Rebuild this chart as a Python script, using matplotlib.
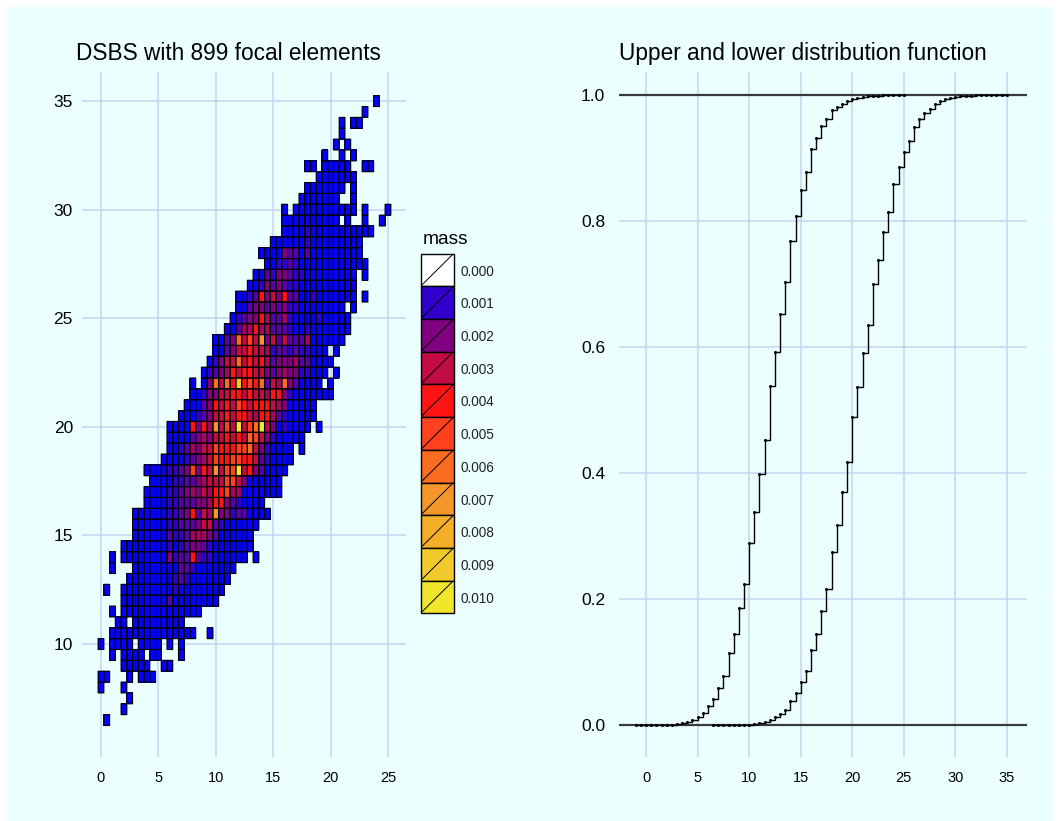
import numpy as np
import matplotlib
matplotlib.use("Agg")
import matplotlib.pyplot as plt
from matplotlib.colors import LinearSegmentedColormap
from matplotlib.patches import Rectangle

plt.rcParams['font.family'] = ['Liberation Sans', 'DejaVu Sans']

W, H = 1060, 821
BG = '#EBFFFF'
GRID = '#C5D3F0'

# -- data for the left panel: one string per row, top row first -- #
# row_first = column where the string starts (column = x / 0.5), "." = no cell
row_y = [35 - 0.5 * i for i in range(58)]
row_first = [48, 46, 42, 42, 41, 39, 36, 38, 36, 35,
             32, 32, 32, 30, 28, 29, 27, 26, 24, 24,
             23, 22, 20, 20, 19, 18, 16, 16, 15, 14,
             12, 12, 12, 11, 8, 9, 8, 8, 6, 6,
             6, 4, 2, 2, 5, 1, 4, 2, 3, 2,
             0, 2, 4, 0, 0, 5, 4, 1]
row_cells = [
    "1",
    "1",
    "1.11",
    "1",
    "1.1",
    "1..1.1",
    "11.11111..11",
    "1111111",
    "1111111.1",
    "1111111..1",
    "1.11111111111.1...1",
    "1111111111.1..1..1",
    "1111211111111111",
    "1111112111111111",
    "111143313111111111",
    "112232111111111111",
    "113244322111111111.1",
    "1124343221111111111",
    "112374647331121111111.1",
    "1134434342211111111.1",
    "123447533521111211111",
    "1135575533321121111111",
    "11349686a46363335111111",
    "11346676652332322111.1",
    "1246696767534445331111",
    "1234576776643454422111.1",
    "1.149697c78793659431111.1",
    "1124466776766577421111111",
    "11134767687677765411111",
    "111234667677657753211111",
    "11117475a686d689d64121111.1",
    "111134546676769864211111",
    "1123546687778896421111.1",
    "11112345687788776321111",
    "111122348476a688d67431111",
    "11112233456668864111111",
    "111122345465778551111111",
    "111122333445774321111",
    "11111122347365a442331111",
    "1111112233346632111111",
    "111111322355543111111",
    "11111111212344321111111",
    "1.1111111142337322111111.1",
    "1...111111113321111111",
    "111111112321111111",
    "1..111111111211111111",
    "11111111311111111",
    "1.11111111111111",
    "11.111111111",
    "111111111111111..1",
    "1.1111.1111.1.1",
    "1.1111.11...1",
    "11111..11",
    "11...1.111",
    "1...1",
    "1",
    "1",
    "1",
]

# mass carried by each colour code
mass_codes = {'1': 0.0001, '2': 0.001, '3': 0.0015, '4': 0.002, '5': 0.0025,
              '6': 0.003, '7': 0.004, '8': 0.005, '9': 0.006, 'a': 0.007,
              'b': 0.008, 'c': 0.009, 'd': 0.010}

legend_vals = [0.000, 0.001, 0.002, 0.003, 0.004, 0.005, 0.006, 0.007, 0.008, 0.009, 0.010]
legend_cols = ['#0000FF', '#3300CC', '#800080', '#C40C40', '#FF1414', '#FF4020',
               '#FA6C20', '#F5962A', '#F5AE28', '#F2C82A', '#F0E62C']

xticks_left = [0, 5, 10, 15, 20, 25]
yticks_left = [10, 15, 20, 25, 30, 35]

# -- data for the right panel -- #
lower_start = -1
lower_cdf = [0, 0, .0001, .0001, .0002, .0004, .0006, .0009, .0014, .0030, .0057, .0089,
             .0132, .0190, .0306, .0418, .0597, .0788, .1153, .1449, .1857, .2248,
             .2899, .3381, .3994, .4534, .5386, .5925, .6529, .7032, .7693, .8090,
             .8497, .8778, .9142, .9322, .9507, .9630, .9761, .9814, .9867, .9915,
             .9946, .9965, .9979, .9988, .9993, .9996, .9998, .9999, 1, 1, 1]
upper_start = 6.5
upper_cdf = [0, 0, 0, 0, .0001, .0002, .0004, .0010, .0021, .0031, .0052, .0084,
             .0127, .0184, .0248, .0391, .0513, .0682, .0867, .1200, .1454, .1809,
             .2164, .2751, .3174, .3703, .4174, .4889, .5375, .5910, .6354, .7000,
             .7386, .7830, .8143, .8597, .8857, .9100, .9275, .9502, .9621, .9725,
             .9788, .9867, .9905, .9937, .9963, .9980, .9988, .9993, .9996, .9998,
             .9999, 1, 1, 1, 1, 1]
xticks_right = [0, 5, 10, 15, 20, 25, 30, 35]
yticks_right = [0.0, 0.2, 0.4, 0.6, 0.8, 1.0]


def px_axes(fig, x0, x1, y0, y1):
    # axes from pixel box (y measured from the top)
    return fig.add_axes([x0 / W, 1 - y1 / H, (x1 - x0) / W, (y1 - y0) / H])


def clean(ax):
    ax.set_facecolor('none')
    for s in ax.spines.values():
        s.set_visible(False)
    ax.tick_params(length=0)
    ax.grid(True, color=GRID, lw=1.1)
    ax.set_axisbelow(True)


fig = plt.figure(figsize=(W / 100, H / 100), dpi=100, facecolor='white')
fig.patches.append(Rectangle((7 / W, 0), (W - 14) / W, 1 - 7 / H, transform=fig.transFigure,
                             facecolor=BG, edgecolor='none', zorder=-5))

# -- left panel -- #
ax = px_axes(fig, 82, 406, 72, 757)
clean(ax)
ax.set_xlim(-1.655, 26.57)
ax.set_ylim(4.8, 36.34)

n_cols = 51
grid = np.full((len(row_y), n_cols), np.nan)
for i, cells in enumerate(row_cells):
    for j, c in enumerate(cells):
        if c != '.':
            grid[i, row_first[i] + j] = mass_codes[c]

col_edges = np.arange(n_cols + 1) * 0.5 - 0.25
row_edges = np.array(row_y + [row_y[-1] - 0.5]) + 0.25
cmap = LinearSegmentedColormap.from_list(
    'mass', [(v / legend_vals[-1], c) for v, c in zip(legend_vals, legend_cols)])
masked = np.ma.masked_invalid(grid)
ax.pcolor(col_edges, row_edges, masked, cmap=cmap, vmin=0, vmax=0.01)
# outlines in a second pass: a later cell's fill would eat the earlier cell's edge
outlines = ax.pcolor(col_edges, row_edges, masked)
edge_rgba = np.zeros((grid.size, 4))
edge_rgba[~np.isnan(grid).ravel(), 3] = 1
outlines.set_array(None)
outlines.set_facecolor('none')
outlines.set_edgecolor(edge_rgba)
outlines.set_linewidth(0.8)
outlines.set_antialiased(True)
ax.set_xticks(xticks_left)
ax.set_yticks(yticks_left)
ax.tick_params(axis='x', labelsize=10.5, pad=10)
ax.tick_params(axis='y', labelsize=12.5, pad=6.5)
ax.set_title("DSBS with 899 focal elements", fontsize=16.3, loc='left', x=-0.0185, pad=8.5)

# legend keys
leg = px_axes(fig, 420.5, 453.5, 253.7, 613.3)
leg.set_axis_off()
leg.set_xlim(0, 1)
leg.set_ylim(len(legend_vals), 0)
for i, v in enumerate(legend_vals):
    col = 'white' if v == 0 else cmap(v / legend_vals[-1])
    leg.add_patch(Rectangle((0, i), 1, 1, facecolor=col, edgecolor='black', lw=1.0, clip_on=False))
    leg.plot([0, 1], [i + 1, i], color='black', lw=0.7, solid_capstyle='butt')
    leg.text(1.2, i + 0.55, "%.3f" % v, fontsize=9.8, va='center', ha='left', color='#222222')
leg.text(0.07, -0.17, "mass", fontsize=13.8, va='bottom', ha='left')

# -- right panel -- #
ax2 = px_axes(fig, 619, 1027, 72, 757)
clean(ax2)
ax2.set_xlim(-2.63, 36.96)
ax2.set_ylim(-0.0504, 1.0370)
ax2.axhline(0, color='#3A3A3A', lw=1.6, zorder=2)
ax2.axhline(1, color='#3A3A3A', lw=1.6, zorder=2)
for start, cdf in [(lower_start, lower_cdf), (upper_start, upper_cdf)]:
    x = start + 0.5 * np.arange(len(cdf))
    ax2.step(x, cdf, where='post', color='black', lw=1.0, zorder=3)
    ax2.plot(x, cdf, 'o', color='black', ms=2.2, mew=0, zorder=3)
ax2.set_xticks(xticks_right)
ax2.set_yticks(yticks_right)
ax2.set_yticklabels(["%.1f" % v for v in yticks_right])
ax2.tick_params(axis='x', labelsize=10.5, pad=10)
ax2.tick_params(axis='y', labelsize=12.5, pad=10)
ax2.set_title("Upper and lower distribution function", fontsize=16.3, loc='left', x=0.0, pad=8.5)

fig.savefig("out.png", dpi=100, facecolor=fig.get_facecolor())
plt.close(fig)
